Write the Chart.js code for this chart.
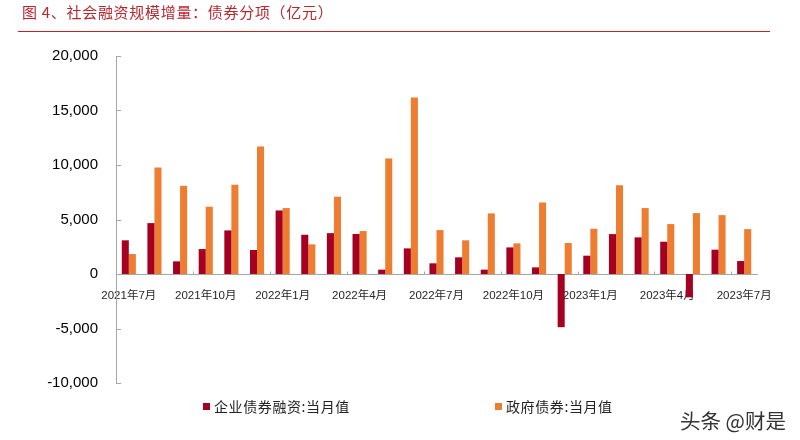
<!DOCTYPE html>
<html><head><meta charset="utf-8">
<script src="https://cdn.jsdelivr.net/npm/chart.js@4/dist/chart.umd.min.js"></script>
<style>
body{margin:0;background:#fff;}
#wrap{position:relative;width:800px;height:440px;overflow:hidden;background:#fff;}
#title{position:absolute;left:22px;top:0px;line-height:24px;font-size:15px;letter-spacing:0.7px;font-family:"Noto Sans CJK SC";color:#b8262e;white-space:pre;}
#rule{position:absolute;left:18px;top:31px;width:752px;height:0;border-top:1.5px solid #b8262e;}
#wm{position:absolute;left:680px;top:407px;line-height:26px;font-size:20.5px;font-family:"Noto Sans CJK SC";color:#333;white-space:nowrap;}
canvas{position:absolute;left:0;top:0;}
</style></head>
<body>
<div id="wrap">
<canvas id="c" width="800" height="440"></canvas>
<div id="title">图 4、社会融资规模增量：债券分项（亿元）</div>
<div id="rule"></div>
<div id="wm">头条 @财是</div>
</div>
<script>
const categories = ['2021年7月','2021年8月','2021年9月','2021年10月','2021年11月','2021年12月',
  '2022年1月','2022年2月','2022年3月','2022年4月','2022年5月','2022年6月',
  '2022年7月','2022年8月','2022年9月','2022年10月','2022年11月','2022年12月',
  '2023年1月','2023年2月','2023年3月','2023年4月','2023年5月','2023年6月','2023年7月'];
const corporateBonds = [3090,4670,1160,2290,4000,2200,5830,3600,3750,3670,400,2350,
  980,1530,400,2440,610,-4880,1680,3660,3360,2960,-2140,2230,1190];
const governmentBonds = [1830,9770,8090,6170,8190,11700,6050,2720,7090,3940,10600,16200,
  4030,3090,5560,2810,6560,2840,4150,8150,6050,4580,5590,5400,4120];
const seriesNames = ['企业债券融资:当月值','政府债券:当月值'];
const yMin = -10000, yMax = 20000, yStep = 5000;
const labelEvery = 3;

const AXIS_COLOR = '#a6a6a6';
const tickMarks = {
  id: 'tickMarks',
  afterDraw(chart) {
    const ctx = chart.ctx, x = chart.scales.x, y = chart.scales.y;
    const area = chart.chartArea;
    ctx.save();
    ctx.strokeStyle = AXIS_COLOR; ctx.lineWidth = 1;
    ctx.beginPath();
    y.ticks.forEach(t => {
      const py = Math.round(y.getPixelForValue(t.value)) + 0.5;
      ctx.moveTo(area.left, py); ctx.lineTo(area.left + 5, py);
    });
    const half = (x.getPixelForValue(1) - x.getPixelForValue(0)) / 2;
    const y0 = Math.round(y.getPixelForValue(0)) + 0.5;
    for (let i = labelEvery; i < categories.length; i += labelEvery) {
      const px = Math.round(x.getPixelForValue(i) - half) + 0.5;
      ctx.moveTo(px, y0); ctx.lineTo(px, y0 - 3);
    }
    ctx.stroke();
    ctx.restore();
  }
};
const legendDraw = {
  id: 'legendDraw',
  afterDraw(chart) {
    const ctx = chart.ctx;
    const xs = [203, 495];
    const cy = 407;
    ctx.save();
    ctx.font = '14px "Noto Sans CJK SC"';
    if ('letterSpacing' in ctx) ctx.letterSpacing = '0.6px';
    ctx.textBaseline = 'middle';
    chart.data.datasets.forEach((ds, i) => {
      ctx.fillStyle = ds.backgroundColor;
      ctx.fillRect(xs[i], cy - 4, 7, 7);
      ctx.fillStyle = '#222';
      ctx.fillText(ds.label, xs[i] + 11, cy);
    });
    ctx.restore();
  }
};

new Chart(document.getElementById('c'), {
  type: 'bar',
  data: {
    labels: categories,
    datasets: [
      {label: seriesNames[0], data: corporateBonds, backgroundColor: '#a50021'},
      {label: seriesNames[1], data: governmentBonds, backgroundColor: '#ed7d31'}
    ]
  },
  options: {
    responsive: false,
    animation: false,
    events: [],
    layout: {padding: {left: 0, top: 56, right: 43, bottom: 57}},
    datasets: {bar: {categoryPercentage: 0.55, barPercentage: 1.0}},
    plugins: {legend: {display: false}, tooltip: {enabled: false}, title: {display: false}},
    scales: {
      x: {
        position: {y: 0},
        grid: {display: false},
        border: {display: true, color: AXIS_COLOR, width: 1},
        ticks: {
          autoSkip: false, maxRotation: 0, minRotation: 0, padding: 7,
          color: '#262626',
          font: {family: '"Liberation Sans", "Noto Sans CJK SC"', size: 11.5},
          callback: (v, i) => (i % labelEvery === 0 ? categories[i] : '')
        },
        afterFit: s => { s.height = 0; }
      },
      y: {
        min: yMin, max: yMax,
        grid: {display: false, drawTicks: false},
        border: {display: true, color: AXIS_COLOR, width: 1},
        ticks: {
          stepSize: yStep, padding: 18, color: '#000',
          font: {family: '"Liberation Sans", Arial', size: 15},
          callback: v => v.toLocaleString('en-US')
        },
        afterFit: s => { s.width = 116; }
      }
    }
  },
  plugins: [tickMarks, legendDraw]
});
</script>
</body></html>
